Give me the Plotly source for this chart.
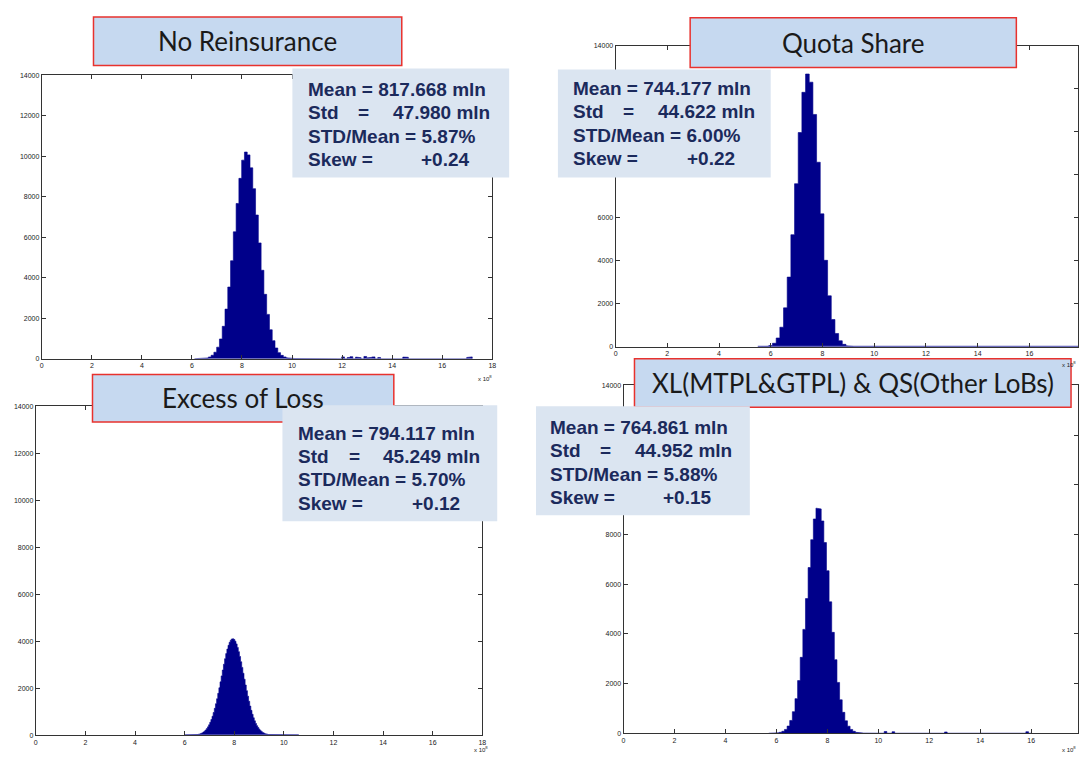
import plotly.graph_objects as go

# ---------------- data (x in units of 10^8, counts per bin) ----------------
panel_titles = ["No Reinsurance", "Quota Share", "Excess of Loss",
                "XL(MTPL&GTPL) & QS(Other LoBs)"]

means = ["817.668", "744.177", "794.117", "764.861"]
stds = ["47.980", "44.622", "45.249", "44.952"]
cvs = ["5.87%", "6.00%", "5.70%", "5.88%"]
skews = ["+0.24", "+0.22", "+0.12", "+0.15"]

x_ticks = [0, 2, 4, 6, 8, 10, 12, 14, 16, 18]
y_ticks = [0, 2000, 4000, 6000, 8000, 10000, 12000, 14000]

# No Reinsurance: 100 bins starting at 6.1, width 0.111
nr_start, nr_width = 6.1, 0.111
nr_counts = [2, 4, 8, 18, 40, 85, 170, 320, 570, 975,
             1600, 2450, 3540, 4840, 6270, 7670, 8910, 9810, 10210, 10070,
             9430, 8400, 7100, 5720, 4370, 3180, 2190, 1430, 890, 530,
             300, 165, 88, 45, 22, 11, 6, 3, 2, 1,
             0, 1, 0, 0, 1, 0, 0, 0, 0, 0,
             0, 0, 0, 90, 0, 60, 100, 0, 80, 50,
             0, 110, 40, 70, 90, 0, 60, 0, 0, 0,
             0, 0, 0, 0, 0, 80, 70, 0, 0, 0,
             0, 0, 0, 0, 0, 0, 0, 0, 0, 0,
             0, 0, 0, 0, 0, 0, 0, 0, 60, 90]

# Quota Share: 100 bins starting at 5.5, width 0.142
qs_start, qs_width = 5.5, 0.142
qs_counts = [1, 6, 20, 60, 165, 410, 910, 1810, 3240, 5210,
             7580, 9960, 11830, 12680, 12300, 10800, 8580, 6180, 4020, 2370,
             1270, 620, 280, 115, 44, 15, 5, 2, 1, 0] + [0] * 70

# Excess of Loss: 100 bins starting at 6.0, width 0.046
xl_start, xl_width = 6.0, 0.046
xl_counts = [0, 0, 1, 1, 2, 4, 6, 8, 12, 16,
             23, 31, 42, 57, 76, 100, 132, 171, 221, 281,
             355, 444, 548, 668, 808, 966, 1144, 1340, 1552, 1781,
             2021, 2270, 2525, 2775, 3021, 3256, 3472, 3665, 3826, 3955,
             4046, 4097, 4106, 4073, 3998, 3885, 3736, 3556, 3352, 3126,
             2886, 2637, 2384, 2137, 1895, 1662, 1444, 1240, 1057, 890,
             742, 612, 500, 405, 325, 258, 203, 158, 122, 93,
             70, 52, 39, 28, 21, 15, 11, 8, 6, 4,
             3, 2, 2, 1, 1, 1, 0, 0, 0, 0,
             0, 0, 0, 0, 0, 0, 0, 0, 0, 0]

# XL(MTPL&GTPL) & QS(Other LoBs): 100 bins starting at 5.7, width 0.103
mx_start, mx_width = 5.7, 0.103
mx_counts = [1, 3, 8, 17, 37, 78, 153, 288, 514, 868,
             1392, 2118, 3055, 4180, 5420, 6670, 7790, 8625, 9060, 9030,
             8545, 7675, 6540, 5290, 4060, 2960, 2045, 1345, 840, 500,
             283, 152, 78, 38, 18, 8, 4, 2, 0, 0,
             0, 0, 0, 0, 70, 0, 0, 60, 0, 0,
             0, 0, 0, 0, 0, 0, 0, 0, 0, 0,
             0, 0, 0, 0, 0, 0, 0, 50, 0, 0,
             0, 0, 0, 0, 0, 0, 0, 0, 0, 0,
             0, 0, 0, 0, 0, 0, 0, 0, 0, 0,
             0, 0, 0, 0, 0, 0, 0, 0, 60, 0]

# ---------------- layout helpers ----------------
W, H = 1082, 760
def px(x):
    return x / W
def py(y):
    return 1 - y / H

BAR_COLOR = "#00008a"
BASE_COLOR = "#5a5ab4"

# plot boxes in pixels: (left, right, top, bottom); y tick labels hidden behind boxes
panels = [
    dict(box=(40, 493, 72, 358), xmax=18.0, start=nr_start, width=nr_width, counts=nr_counts,
         base=False, hide=[]),
    dict(box=(617, 1082, 42, 346), xmax=17.88, start=qs_start, width=qs_width, counts=qs_counts,
         base=True, hide=[8000, 10000, 12000]),
    dict(box=(34, 483, 406, 738), xmax=18.0, start=xl_start, width=xl_width, counts=xl_counts,
         base=True, hide=[]),
    dict(box=(625, 1082, 385, 736), xmax=17.84, start=mx_start, width=mx_width, counts=mx_counts,
         base=False, hide=[10000, 12000]),
]

fig = go.Figure()
layout = dict(
    width=W, height=H, margin=dict(l=0, r=0, t=0, b=0),
    paper_bgcolor="white", plot_bgcolor="white", showlegend=False,
)

axis_common = dict(showline=True, linecolor="#333333", linewidth=1, mirror="ticks",
                   ticks="inside", ticklen=4, tickcolor="#333333", showgrid=False,
                   zeroline=False, tickfont=dict(family="Liberation Sans", size=7, color="#222222"))

for k, p in enumerate(panels):
    n = "" if k == 0 else str(k + 1)
    l, r, t, b = p["box"]
    nb = len(p["counts"])
    # histogram outline as a closed step polygon built from bin edges and counts
    hx, hy = [p["start"]], [0]
    for i, c in enumerate(p["counts"]):
        e0 = p["start"] + i * p["width"]
        e1 = e0 + p["width"]
        hx += [e0, e1]
        hy += [c, c]
    hx.append(p["start"] + nb * p["width"])
    hy.append(0)
    fig.add_trace(go.Scatter(x=hx, y=hy, mode="lines", line=dict(color=BAR_COLOR, width=0.6),
                             fill="toself", fillcolor=BAR_COLOR,
                             xaxis="x" + n, yaxis="y" + n, hoverinfo="skip"))
    if p["base"]:
        fig.add_trace(go.Scatter(x=[hx[0], hx[-1]], y=[0, 0], mode="lines",
                                 line=dict(color=BASE_COLOR, width=2),
                                 xaxis="x" + n, yaxis="y" + n, hoverinfo="skip"))
    ytext = ["" if v in p["hide"] else str(v) for v in y_ticks]
    layout["xaxis" + n] = dict(axis_common, domain=[px(l), px(r)], range=[0, p["xmax"]],
                               tickvals=x_ticks, ticktext=[str(v) for v in x_ticks], anchor="y" + n)
    layout["yaxis" + n] = dict(axis_common, domain=[py(b), py(t)], range=[0, 14000],
                               tickvals=y_ticks, ticktext=ytext, anchor="x" + n)

fig.update_layout(**layout)

# ---------------- boxes and texts ----------------
TITLE_FILL = "#c6d9f0"
TITLE_BORDER = "#e8322e"
STAT_FILL = "#dbe5f1"
STAT_TEXT = "#1b2a5c"

title_boxes = [(92, 402, 13, 62), (692, 1020, 14, 64), (91, 394, 374, 422), (636, 1075, 358, 407)]
stat_boxes = [(292, 510, 65, 175), (559, 773, 66, 175), (282, 498, 405, 522), (537, 752, 406, 516)]
stat_first_line = [86, 85, 433, 427]
stat_text_left = [306, 572, 296, 549]

shapes = []
annotations = []
for k in range(4):
    l, r, t, b = title_boxes[k]
    shapes.append(dict(type="rect", xref="paper", yref="paper", x0=px(l), x1=px(r), y0=py(b), y1=py(t),
                       fillcolor=TITLE_FILL, line=dict(color=TITLE_BORDER, width=1.5), layer="above"))
    annotations.append(dict(xref="paper", yref="paper", x=px((l + r) / 2), y=py((t + b) / 2),
                            text=panel_titles[k], showarrow=False, xanchor="center", yanchor="middle",
                            font=dict(family="Lato", size=26, color="#1a1a1a")))
    l, r, t, b = stat_boxes[k]
    shapes.append(dict(type="rect", xref="paper", yref="paper", x0=px(l), x1=px(r), y0=py(b), y1=py(t),
                       fillcolor=STAT_FILL, line=dict(width=0), layer="above"))
    x0 = stat_text_left[k]
    y0 = stat_first_line[k]
    sf = dict(family="Liberation Sans", size=19, color=STAT_TEXT)
    def put(text, x, y, anchor="left"):
        annotations.append(dict(xref="paper", yref="paper", x=px(x), y=py(y), text="<b>" + text + "</b>",
                                showarrow=False, xanchor=anchor, yanchor="middle", font=sf))
    put("Mean = " + means[k] + " mln", x0, y0)
    put("Std", x0, y0 + 23.7)
    put("=", x0 + 58, y0 + 23.7, "center")
    put(stds[k] + " mln", x0 + 187, y0 + 23.7, "right")
    put("STD/Mean = " + cvs[k], x0, y0 + 47.4)
    put("Skew =", x0, y0 + 71)
    put(skews[k], x0 + 167, y0 + 71, "right")

# exponent labels
for (xx, yy, anc) in [(486, 377, "center"), (1082, 363, "right"), (482, 752, "center"), (1082, 752, "right")]:
    annotations.append(dict(xref="paper", yref="paper", x=px(xx), y=py(yy), text="x 10<sup>8</sup>",
                            showarrow=False, xanchor=anc, yanchor="middle",
                            font=dict(family="Liberation Sans", size=6, color="#222222")))

fig.update_layout(shapes=shapes, annotations=annotations)
fig.write_html("out.html", config={"displayModeBar": False},
               post_script="document.body.style.margin='0';document.body.style.overflow='hidden';")
